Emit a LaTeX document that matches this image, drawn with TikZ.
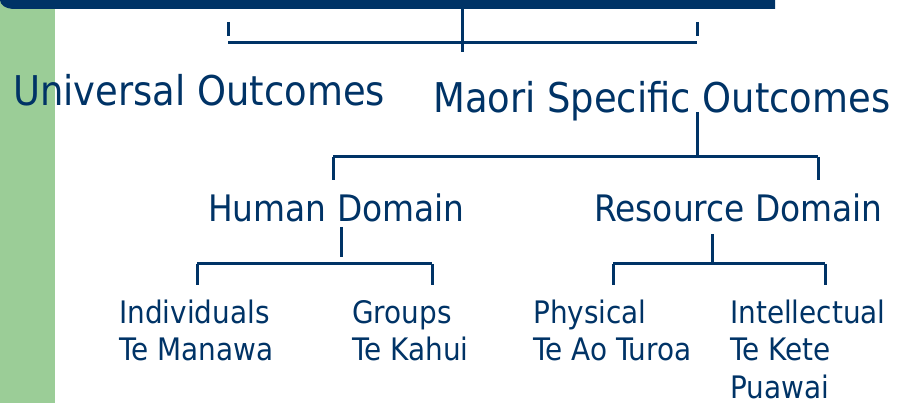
\documentclass[tikz,border=0pt]{standalone}
\usepackage{fontspec}
\setmainfont{DejaVu Sans}[FakeStretch=0.9]
\definecolor{navy}{RGB}{0,51,102}
\definecolor{sage}{RGB}{155,205,151}
\tikzset{
  lvla/.style={anchor=base west, inner sep=0pt, text=navy, font=\fontsize{41}{49}\selectfont},
  lvlb/.style={anchor=base west, inner sep=0pt, text=navy, font=\fontsize{36.5}{44}\selectfont},
  lvlc/.style={anchor=north west, inner sep=0pt, text=navy, align=left, font=\fontsize{31}{37.5}\selectfont},
  link/.style={draw=navy, line width=3pt},
}

\begin{document}
\begin{tikzpicture}[x=1pt,y=-1pt]
    \useasboundingbox (0,0) rectangle (900,403);
    % side band and title bar
    \fill[sage] (0,0) rectangle (55,403);
    \fill[navy] (0,0) -- (775,0) -- (775,9) -- (15,9) .. controls (6,9) and (0,5) .. (0,0) -- cycle;

    \node[lvla] (uni) at (13,106) {Universal Outcomes};
    \node[lvla] (mao) at (433,113) {Maori Specific Outcomes};
    \node[lvlb] (hum) at (208,222) {Human Domain};
    \node[lvlb] (res) at (594,222) {Resource Domain};
    % first baseline at 323, strut height 26.25
    \node[lvlc] (ind) at (119,296.75) {\strut Individuals\\Te Manawa};
    \node[lvlc] (grp) at (352,296.75) {\strut Groups\\Te Kahui};
    \node[lvlc] (phy) at (533,296.75) {\strut Physical\\Te Ao Turoa};
    \node[lvlc] (int) at (730,296.75) {\strut Intellectual\\Te Kete\\Puawai};

    % bracket joints
    \coordinate (top) at (462,9);
    \coordinate (top_j) at (462,52);
    \coordinate (uni_j) at (228,43);
    \coordinate (mao_j) at (697,43);
    \coordinate (mao_s) at (697,112);
    \coordinate (mao_j2) at (697,157);
    \coordinate (hum_j) at (333,157);
    \coordinate (res_j) at (818,157);
    \coordinate (hum_s) at (341,227);
    \coordinate (ind_j) at (197,264);
    \coordinate (grp_j) at (432,264);
    \coordinate (res_s) at (712,234);
    \coordinate (phy_j) at (613,264);
    \coordinate (int_j) at (825,264);

    \draw[link] (top) -- (top_j);
    \draw[link] (uni_j) -- (mao_j);
    \draw[link] (uni_j) ++(0,-21) -- ++(0,14);
    \draw[link] (mao_j) ++(0,-21) -- ++(0,14);
    \draw[link] (mao_s) -- (mao_j2);
    \draw[link] (hum_j) -- (res_j);
    \draw[link] (hum_j) -- ++(0,23);
    \draw[link] (res_j) -- ++(0,23);
    \draw[link] (hum_s) -- ++(0,30);
    \draw[link] (ind_j) -- (grp_j);
    \draw[link] (ind_j) -- ++(0,21);
    \draw[link] (grp_j) -- ++(0,21);
    \draw[link] (res_s) -- (res_s |- phy_j);
    \draw[link] (phy_j) -- (int_j);
    \draw[link] (phy_j) -- ++(0,21);
    \draw[link] (int_j) -- ++(0,21);
\end{tikzpicture}
\end{document}
